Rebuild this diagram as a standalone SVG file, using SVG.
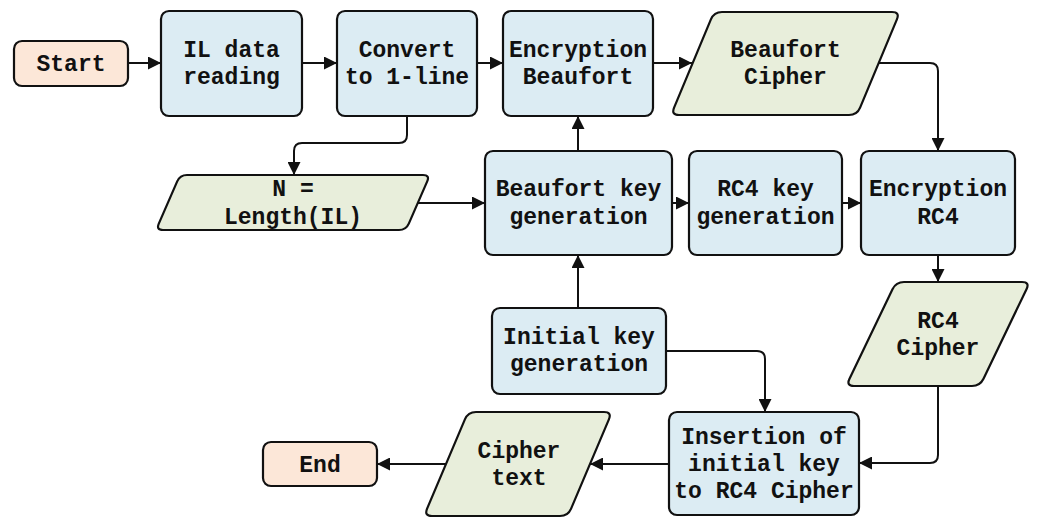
<svg xmlns="http://www.w3.org/2000/svg" width="1040" height="519" viewBox="0 0 1040 519">
  <style>
    .proc { fill: #dcecf3; stroke: #111; stroke-width: 2.2; }
    .io { fill: #e8eedb; stroke: #111; stroke-width: 2.2; stroke-linejoin: round; }
    .term { fill: #fce7d8; stroke: #111; stroke-width: 2.2; }
    .lbl { font-family: "Liberation Mono", "Courier New", monospace; font-weight: bold; font-size: 23px; fill: #111; text-anchor: middle; }
    .conn { fill: none; stroke: #111; stroke-width: 2; marker-end: url(#arrow); }
  </style>
  <defs>
    <marker id="arrow" markerUnits="userSpaceOnUse" markerWidth="14" markerHeight="13" refX="13" refY="6.5" orient="auto">
      <path d="M0,0 L13,6.5 L0,13 Z" fill="#111"/>
    </marker>
  </defs>
  <rect width="1040" height="519" fill="#ffffff"/>

  <!-- connectors -->
  <g id="connectors">
    <path class="conn" d="M128 63 H161"/>
    <path class="conn" d="M302 63 H337"/>
    <path class="conn" d="M477 63 H503"/>
    <path class="conn" d="M653 63 H692"/>
    <path class="conn" d="M878 63 H930 Q938 63 938 71 V151"/>
    <path class="conn" d="M407 116 V135 Q407 143 399 143 H302 Q294 143 294 151 V175"/>
    <path class="conn" d="M418 203 H485"/>
    <path class="conn" d="M578 151 V116"/>
    <path class="conn" d="M672 203 H689"/>
    <path class="conn" d="M842 203 H861"/>
    <path class="conn" d="M938 255 V282"/>
    <path class="conn" d="M578 308 V255"/>
    <path class="conn" d="M666 351 H757 Q765 351 765 359 V412"/>
    <path class="conn" d="M938 386 V455 Q938 463 930 463 H859"/>
    <path class="conn" d="M669 464 H590"/>
    <path class="conn" d="M446 464 H377"/>
  </g>

  <g id="start">
    <rect class="term" x="14" y="41" width="114" height="45" rx="8"/>
    <text class="lbl" x="71" y="71">Start</text>
  </g>
  <g id="il-data-reading">
    <rect class="proc" x="161" y="11" width="141" height="105" rx="8"/>
    <text class="lbl" x="231.5" y="56.5">IL data</text>
    <text class="lbl" x="231.5" y="84">reading</text>
  </g>
  <g id="convert">
    <rect class="proc" x="337" y="11" width="140" height="105" rx="8"/>
    <text class="lbl" x="407" y="56.5">Convert</text>
    <text class="lbl" x="407" y="84">to 1-line</text>
  </g>
  <g id="encryption-beaufort">
    <rect class="proc" x="503" y="11" width="150" height="105" rx="8"/>
    <text class="lbl" x="578" y="56.5">Encryption</text>
    <text class="lbl" x="578" y="84">Beaufort</text>
  </g>
  <g id="beaufort-cipher">
    <path class="io" d="M722 12 H892 Q900 12 896.9 19.4 L860.1 107.6 Q857 115 849 115 H679 Q671 115 674.1 107.6 L710.9 19.4 Q714 12 722 12 Z"/>
    <text class="lbl" x="785.5" y="56.5">Beaufort</text>
    <text class="lbl" x="785.5" y="84">Cipher</text>
  </g>
  <g id="length">
    <path class="io" d="M187 175 H423 Q430 175 427.2 181.4 L408.8 223.6 Q406 230 399 230 H163 Q156 230 158.8 223.6 L177.2 181.4 Q180 175 187 175 Z"/>
    <text class="lbl" x="293" y="196">N =</text>
    <text class="lbl" x="293" y="224">Length(IL)</text>
  </g>
  <g id="beaufort-key-generation">
    <rect class="proc" x="485" y="151" width="187" height="104" rx="8"/>
    <text class="lbl" x="578.5" y="196">Beaufort key</text>
    <text class="lbl" x="578.5" y="223.5">generation</text>
  </g>
  <g id="rc4-key-generation">
    <rect class="proc" x="689" y="151" width="153" height="104" rx="8"/>
    <text class="lbl" x="765.5" y="196">RC4 key</text>
    <text class="lbl" x="765.5" y="223.5">generation</text>
  </g>
  <g id="encryption-rc4">
    <rect class="proc" x="861" y="151" width="154" height="104" rx="8"/>
    <text class="lbl" x="938" y="196">Encryption</text>
    <text class="lbl" x="938" y="223.5">RC4</text>
  </g>
  <g id="rc4-cipher">
    <path class="io" d="M904 282 H1022 Q1030 282 1026.5 289.2 L983.5 378.8 Q980 386 972 386 H854 Q846 386 849.5 378.8 L892.5 289.2 Q896 282 904 282 Z"/>
    <text class="lbl" x="938" y="327.5">RC4</text>
    <text class="lbl" x="938" y="355">Cipher</text>
  </g>
  <g id="initial-key-generation">
    <rect class="proc" x="492" y="308" width="174" height="86" rx="8"/>
    <text class="lbl" x="579" y="343.5">Initial key</text>
    <text class="lbl" x="579" y="371">generation</text>
  </g>
  <g id="insertion">
    <rect class="proc" x="669" y="412" width="190" height="103" rx="8"/>
    <text class="lbl" x="764" y="444">Insertion of</text>
    <text class="lbl" x="764" y="471">initial key</text>
    <text class="lbl" x="764" y="498">to RC4 Cipher</text>
  </g>
  <g id="cipher-text">
    <path class="io" d="M476 412 H604 Q612 412 608.9 419.4 L571.1 508.6 Q568 516 560 516 H432 Q424 516 427.1 508.6 L464.9 419.4 Q468 412 476 412 Z"/>
    <text class="lbl" x="519" y="457.5">Cipher</text>
    <text class="lbl" x="519" y="485">text</text>
  </g>
  <g id="end">
    <rect class="term" x="263" y="442" width="114" height="44" rx="8"/>
    <text class="lbl" x="320" y="472">End</text>
  </g>
</svg>
